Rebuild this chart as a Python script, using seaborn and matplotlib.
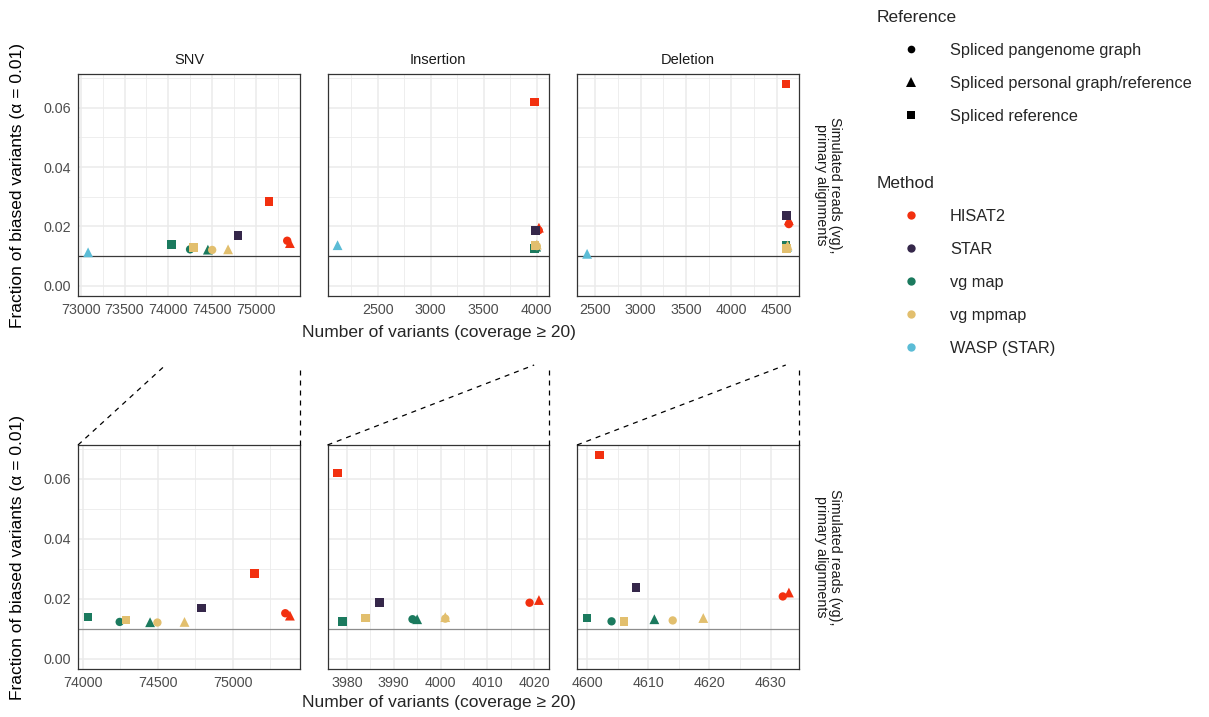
import pandas as pd
import seaborn as sns
import matplotlib.pyplot as plt
from matplotlib.ticker import MultipleLocator, FormatStrFormatter
from matplotlib.lines import Line2D

# ---- data ----
variant_types = ["SNV", "Insertion", "Deletion"]
methods = ["HISAT2", "STAR", "vg map", "vg mpmap", "WASP (STAR)"]
method_colors = ["#F2300F", "#35274A", "#1B7A5E", "#E2BF6E", "#5BBCD6"]
references = ["Spliced pangenome graph", "Spliced personal graph/reference", "Spliced reference"]
reference_markers = ["o", "^", "s"]

point_method = ["HISAT2", "HISAT2", "HISAT2", "STAR",
                "vg map", "vg map", "vg map",
                "vg mpmap", "vg mpmap", "vg mpmap", "WASP (STAR)"]
point_reference = ["Spliced pangenome graph", "Spliced personal graph/reference", "Spliced reference",
                   "Spliced reference",
                   "Spliced pangenome graph", "Spliced personal graph/reference", "Spliced reference",
                   "Spliced pangenome graph", "Spliced personal graph/reference", "Spliced reference",
                   "Spliced personal graph/reference"]

snv_variants = [75352, 75383, 75146, 74794, 74246, 74449, 74035, 74498, 74679, 74288, 73085]
snv_fraction = [0.0152, 0.0144, 0.0284, 0.0170, 0.0123, 0.0122, 0.0140, 0.0121, 0.0123, 0.0130, 0.0113]

ins_variants = [4019, 4021, 3978, 3987, 3994, 3995, 3979, 4001, 4001, 3984, 2122]
ins_fraction = [0.0187, 0.0196, 0.0619, 0.0187, 0.0132, 0.0132, 0.0125, 0.0134, 0.0139, 0.0136, 0.0137]

del_variants = [4632, 4633, 4602, 4608, 4604, 4611, 4600, 4614, 4619, 4606, 2412]
del_fraction = [0.0208, 0.0221, 0.0679, 0.0237, 0.0125, 0.0132, 0.0136, 0.0128, 0.0136, 0.0125, 0.0108]

alpha_line = 0.01
top_tick_step = [500, 500, 500]
zoom_tick_step = [500, 10, 10]

frames = []
for vt, xs, ys in zip(variant_types, [snv_variants, ins_variants, del_variants],
                      [snv_fraction, ins_fraction, del_fraction]):
    frames.append(pd.DataFrame({"Type": vt, "Method": point_method, "Reference": point_reference,
                                "Variants": xs, "Fraction": ys}))
df = pd.concat(frames, ignore_index=True)

sns.set_theme(style="white")
plt.rcParams["font.family"] = ["Liberation Sans", "DejaVu Sans"]

palette = dict(zip(methods, method_colors))
marker_map = dict(zip(references, reference_markers))
size_map = dict(zip(references, [36, 50, 38]))


def padded(lo, hi):
    r = hi - lo
    return lo - 0.05 * r, hi + 0.05 * r


ylim = padded(0, df["Fraction"].max())

W, H = 1209, 717
fig = plt.figure(figsize=(W / 100, H / 100), dpi=100)


def box(l, t, r, b):
    return [l / W, 1 - b / H, (r - l) / W, (b - t) / H]


def style_axes(ax, xlim, step, show_y, hline_color):
    ax.set_xlim(xlim)
    ax.set_ylim(ylim)
    ax.xaxis.set_major_locator(MultipleLocator(step))
    ax.xaxis.set_minor_locator(MultipleLocator(step / 2))
    ax.yaxis.set_major_locator(MultipleLocator(0.02))
    ax.yaxis.set_minor_locator(MultipleLocator(0.01))
    ax.yaxis.set_major_formatter(FormatStrFormatter("%.2f"))
    ax.xaxis.set_major_formatter(FormatStrFormatter("%d"))
    ax.grid(which="major", color="#EBEBEB", lw=1.1)
    ax.grid(which="minor", color="#EBEBEB", lw=0.6)
    ax.set_axisbelow(True)
    for sp in ax.spines.values():
        sp.set_color("#333333")
        sp.set_linewidth(0.9)
    ax.tick_params(which="major", length=3, width=0.8, color="#333333",
                   labelsize=10.3, labelcolor="#4D4D4D", pad=2)
    ax.tick_params(which="minor", length=0)
    if not show_y:
        ax.tick_params(axis="y", which="both", left=False, labelleft=False)
    ax.axhline(alpha_line, color=hline_color, lw=0.9, zorder=2)
    ax.set_xlabel("")
    ax.set_ylabel("")


cols = [(78, 300), (327.5, 549), (577, 799)]
top_row = (74, 296)
bot_row = (445, 669)
dash_top_y = 365

for i, vt in enumerate(variant_types):
    l, r = cols[i]
    sub = df[df["Type"] == vt]
    zsub = sub[sub["Method"] != "WASP (STAR)"]

    ax_t = fig.add_axes(box(l, top_row[0], r, top_row[1]))
    sns.scatterplot(data=sub, x="Variants", y="Fraction", hue="Method", style="Reference",
                    size="Reference", sizes=size_map,
                    palette=palette, markers=marker_map, linewidth=0,
                    legend=False, ax=ax_t, zorder=3)
    style_axes(ax_t, padded(sub["Variants"].min(), sub["Variants"].max()),
               top_tick_step[i], i == 0, "#3A3A3A")
    ax_t.set_title(vt, fontsize=10.5, color="#1A1A1A", pad=7)

    ax_b = fig.add_axes(box(l, bot_row[0], r, bot_row[1]))
    sns.scatterplot(data=zsub, x="Variants", y="Fraction", hue="Method", style="Reference",
                    size="Reference", sizes=size_map,
                    palette=palette, markers=marker_map, linewidth=0,
                    legend=False, ax=ax_b, zorder=3)
    zlim = padded(zsub["Variants"].min(), zsub["Variants"].max())
    style_axes(ax_b, zlim, zoom_tick_step[i], i == 0, "#8C8C8C")

    # dashed zoom connectors
    fig.canvas.draw()
    inv = fig.transFigure.inverted()
    x_target = inv.transform(ax_t.transData.transform((zlim[0], 0)))[0]
    pos = ax_b.get_position()
    y_top = 1 - dash_top_y / H
    fig.add_artist(Line2D([pos.x0, x_target], [pos.y1, y_top], transform=fig.transFigure,
                          color="black", lw=0.9, ls=(0, (4, 4))))
    fig.add_artist(Line2D([pos.x1, pos.x1], [pos.y1, y_top], transform=fig.transFigure,
                          color="black", lw=0.9, ls=(0, (4, 4))))

# shared labels
ylabel = "Fraction of biased variants (α = 0.01)"
xlabel = "Number of variants (coverage ≥ 20)"
strip = "Simulated reads (vg),\nprimary alignments"
for (t, b) in [top_row, bot_row]:
    yc = 1 - (t + b) / 2 / H
    fig.text(18 / W, yc, ylabel, rotation=90, ha="center", va="center", fontsize=12.5, color="black")
    fig.text(828 / W, yc, strip, rotation=-90, ha="center", va="center", fontsize=10.3,
             color="#1A1A1A", multialignment="center", linespacing=1.0)
fig.text(438.5 / W, 1 - 333 / H, xlabel, ha="center", va="center", fontsize=12.5)
fig.text(438.5 / W, 1 - 703 / H, xlabel, ha="center", va="center", fontsize=12.5)

# legends
ref_handles = [Line2D([], [], ls="none", marker=m, color="black", markersize=ms, markeredgewidth=0)
               for m, ms in zip(reference_markers, [5.5, 6.5, 5.5])]
meth_handles = [Line2D([], [], ls="none", marker="o", color=c, markersize=6, markeredgewidth=0)
                for c in method_colors]
legend_kw = dict(loc="upper left", frameon=False, fontsize=11.8, title_fontsize=12.5,
                 alignment="left", handlelength=4.1, handletextpad=0.35, labelspacing=1.1,
                 borderpad=0, borderaxespad=0)
fig.legend(ref_handles, references, title="Reference", bbox_to_anchor=(877 / W, 1 - 10 / H), **legend_kw)
fig.legend(meth_handles, methods, title="Method", bbox_to_anchor=(877 / W, 1 - 176 / H), **legend_kw)

fig.savefig("out.png", dpi=100, facecolor="white")
